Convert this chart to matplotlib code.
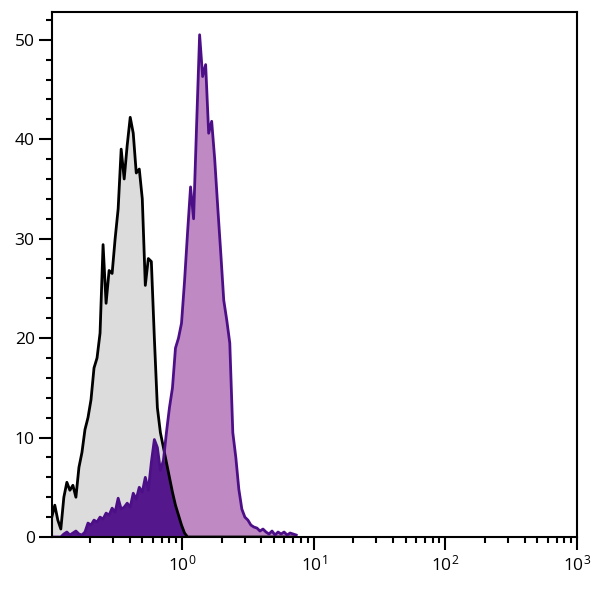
import numpy as np
import matplotlib
matplotlib.use("Agg")
import matplotlib.pyplot as plt
from matplotlib.ticker import LogLocator, MultipleLocator, NullFormatter

plt.rcParams['font.family'] = ['Open Sans', 'DejaVu Sans']
plt.rcParams['mathtext.default'] = 'regular'

# histogram channels: 82 log-spaced bins, ~0.1 to ~7.4
bins = np.logspace(-0.989, 0.867, 82)

# isotype control (grey)
control = [2.0, 3.2, 1.7, 0.8, 4.0, 5.5, 4.7, 5.2, 4.0, 7.0,
           8.5, 10.8, 12.0, 13.8, 17.0, 18.0, 20.5, 29.4, 23.5, 26.8,
           26.5, 30.0, 33.0, 39.0, 36.0, 39.4, 42.2, 40.6, 36.6, 37.0,
           34.0, 25.3, 28.0, 27.7, 20.0, 13.0, 10.5, 9.0, 7.5, 6.0,
           4.5, 3.2, 2.2, 1.2, 0.4, 0.0, 0.0, 0.0, 0.0, 0.0,
           0.0, 0.0, 0.0, 0.0, 0.0, 0.0, 0.0, 0.0, 0.0, 0.0,
           0.0, 0.0, 0.0, 0.0, 0.0, 0.0, 0.0, 0.0, 0.0, 0.0,
           0.0, 0.0, 0.0, 0.0, 0.0, 0.0, 0.0, 0.0, 0.0, 0.0,
           0.0, 0.0]

# stained sample (purple)
stained = [0.0, 0.0, 0.0, 0.0, 0.3, 0.5, 0.2, 0.4, 0.6, 0.3,
           0.2, 0.5, 1.4, 1.2, 1.7, 1.5, 2.0, 1.8, 2.4, 2.2,
           2.9, 2.5, 3.9, 2.8, 3.0, 3.4, 3.0, 4.4, 3.8, 5.0,
           4.5, 6.0, 4.7, 7.5, 9.8, 9.0, 6.7, 7.7, 10.5, 13.0,
           15.0, 19.0, 20.0, 21.5, 25.7, 30.6, 35.2, 32.0, 41.4, 50.5,
           46.3, 47.5, 40.6, 41.8, 38.0, 33.2, 28.6, 23.8, 21.8, 19.5,
           10.5, 8.0, 4.8, 2.8, 2.0, 1.7, 1.2, 1.0, 0.9, 0.6,
           0.8, 0.5, 0.3, 0.6, 0.2, 0.5, 0.3, 0.5, 0.2, 0.4,
           0.3, 0.2]

control = np.array(control)
stained = np.array(stained)

fig = plt.figure(figsize=(6.0, 5.92), dpi=100)
ax = fig.add_axes([0.0867, 0.0929, 0.875, 0.887])

ax.fill_between(bins, 0, control, color='#dcdcdc', lw=0)
ax.plot(bins, control, color='black', lw=2.0)
ax.fill_between(bins, 0, stained, color='#bf8ac3', lw=0)
ax.plot(bins, stained, color='#4d0f87', lw=2.0)
# overlap of both populations
ax.fill_between(bins, 0, np.minimum(control, stained), color='#55188c', lw=0)

ax.set_xscale('log')
ax.set_xlim(0.103, 1000)
ax.set_ylim(0, 52.8)

ax.xaxis.set_major_locator(LogLocator(base=10, numticks=10))
ax.xaxis.set_minor_locator(LogLocator(base=10, subs=np.arange(2, 10), numticks=20))
ax.xaxis.set_minor_formatter(NullFormatter())
ax.yaxis.set_major_locator(MultipleLocator(10))
ax.yaxis.set_minor_locator(MultipleLocator(2))

for s in ax.spines.values():
    s.set_linewidth(1.5)
ax.tick_params(which='major', length=9.5, width=1.5, labelsize=12.5, pad=3)
ax.tick_params(which='minor', length=4, width=1.5)
ax.tick_params(top=False, right=False)

fig.savefig('out.png', dpi=100)
